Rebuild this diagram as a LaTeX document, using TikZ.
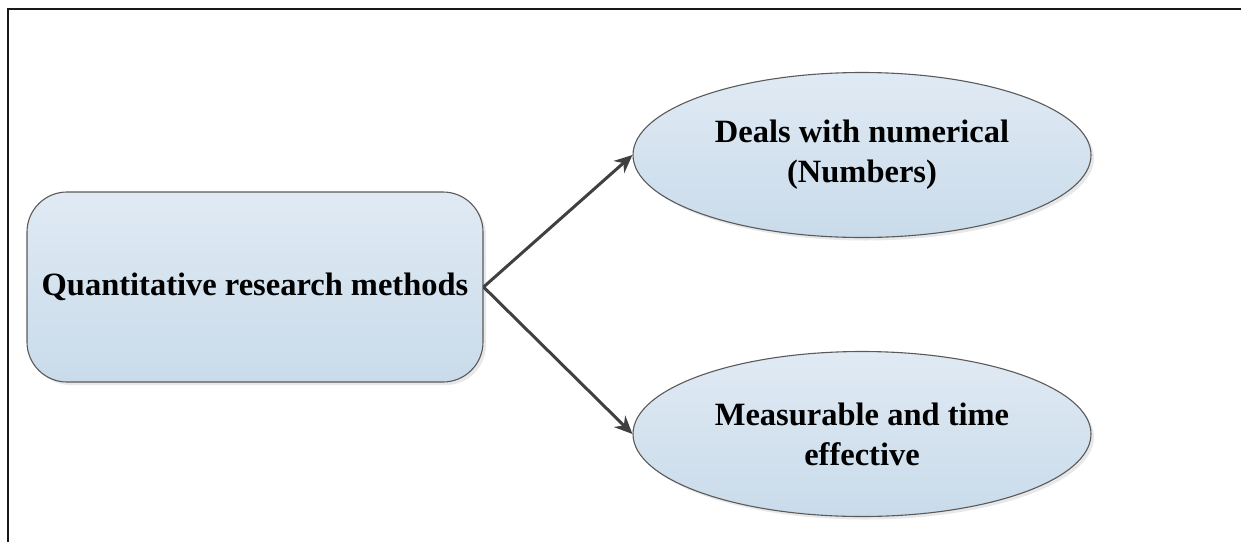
\documentclass[tikz,border=0pt]{standalone}
\usepackage{fontspec}
\setmainfont{Liberation Serif}
\usetikzlibrary{shapes.geometric,arrows.meta,shadows}
\definecolor{fillTop}{HTML}{E0EAF4}
\definecolor{fillBot}{HTML}{C9DBEA}
\definecolor{edgeGray}{HTML}{5A5A5A}
\definecolor{arrowGray}{HTML}{404040}
\tikzset{
  shapefill/.style={draw=edgeGray, line width=1.1pt, top color=fillTop, bottom color=fillBot,
    drop shadow={opacity=0.18, shadow xshift=3pt, shadow yshift=-3pt}},
  mainbox/.style={shapefill, rectangle, rounded corners=40pt, minimum width=456pt,
    minimum height=190pt, inner sep=0pt},
  oval/.style={shapefill, ellipse, minimum width=458pt, minimum height=165pt, inner sep=0pt,
    align=center},
  label/.style={font=\fontsize{32.5}{40}\selectfont\bfseries, text=black},
  link/.style={draw=arrowGray, line width=3pt, -{Stealth[length=18pt,width=16pt]}},
  frame/.style={draw=black!90, line width=2.8pt}
}
\begin{document}
\begin{tikzpicture}[x=1pt,y=-1pt]
  \useasboundingbox (0,0) rectangle (1241,542);
  % outer frame (left and top sides)
  \draw[frame] (8,542) -- (8,9) -- (1241,9);

  \node[mainbox, label] (qrm) at (255,287) {Quantitative research methods};
  \node[oval, label] (num) at (862,155) {Deals with numerical\\(Numbers)};
  \node[oval, label] (meas) at (862,434) {Measurable and time\\effective};

  \draw[link] (qrm.east) -- (num.west);
  \draw[link] (qrm.east) -- (meas.west);
\end{tikzpicture}
\end{document}
